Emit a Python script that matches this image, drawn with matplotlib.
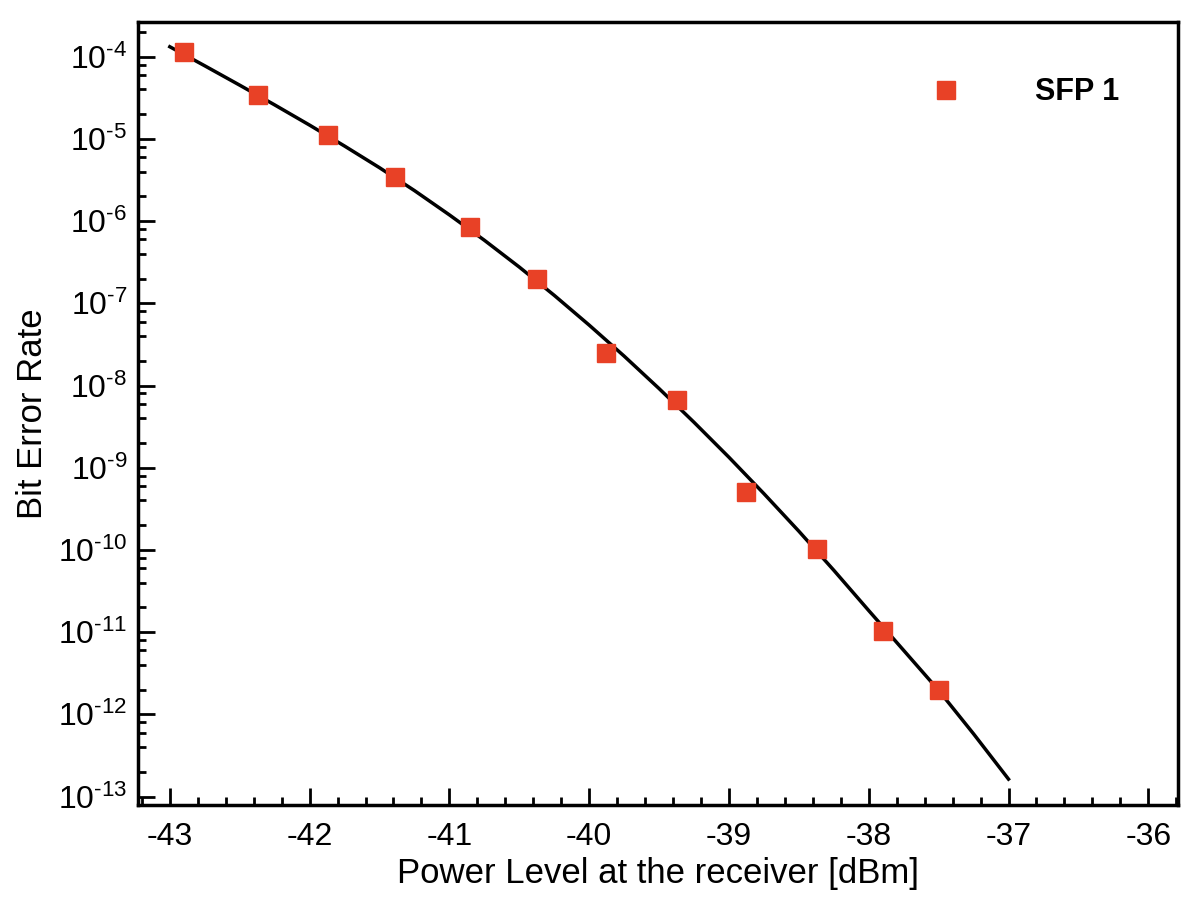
import matplotlib
matplotlib.use("Agg")
import matplotlib.pyplot as plt
import numpy as np
from matplotlib.ticker import FixedLocator, MultipleLocator, NullFormatter, FuncFormatter

plt.rcParams['font.family'] = ['Liberation Sans', 'DejaVu Sans']
plt.rcParams['mathtext.fontset'] = 'custom'
plt.rcParams['mathtext.rm'] = 'Liberation Sans'
plt.rcParams['mathtext.it'] = 'Liberation Sans:italic'
plt.rcParams['mathtext.bf'] = 'Liberation Sans:bold'
plt.rcParams['axes.unicode_minus'] = False

# measured points
power = [-42.90, -42.37, -41.87, -41.39, -40.85, -40.37, -39.88, -39.37,
         -38.88, -38.37, -37.90, -37.50]
ber = [1.13e-4, 3.4e-5, 1.13e-5, 3.4e-6, 8.4e-7, 2.0e-7, 2.5e-8, 6.6e-9,
       5.1e-10, 1.03e-10, 1.04e-11, 2.0e-12]

# fit curve
fit_power = [-43.0, -42.75, -42.5, -42.25, -42.0, -41.75, -41.5, -41.25,
             -41.0, -40.75, -40.5, -40.25, -40.0, -39.75, -39.5, -39.25,
             -39.0, -38.75, -38.5, -38.25, -38.0, -37.75, -37.5, -37.25,
             -37.0]
fit_ber = [1.32e-4, 7.74e-5, 4.50e-5, 2.59e-5, 1.47e-5, 8.18e-6, 4.46e-6,
           2.35e-6, 1.19e-6, 5.85e-7, 2.76e-7, 1.25e-7, 5.43e-8, 2.28e-8,
           9.18e-9, 3.57e-9, 1.34e-9, 4.84e-10, 1.69e-10, 5.66e-11, 1.83e-11,
           6.0e-12, 1.96e-12, 5.79e-13, 1.63e-13]

# y ticks: decades shown on the axis
decades = [-13, -12, -11, -10, -9, -8, -7, -6, -5, -4]


def pow10(v, pos):
    n = int(round(np.log10(v)))
    return r"$10^{\text{%d}}$" % n


fig = plt.figure(figsize=(11.98, 8.98), dpi=100)
fig.set_facecolor("w")
ax = fig.add_axes([0.1155, 0.1036, 0.8675, 0.8719])

ax.plot(fit_power, fit_ber, color="black", lw=2.5, zorder=2)
ax.plot(power, ber, ls="none", marker="s", ms=13, color="#E84126",
        mec="#E84126", label="SFP 1", zorder=3)

ax.set_yscale("log")
ax.set_xlim(-43.225, -35.79)
ax.set_ylim(7.9e-14, 2.64e-4)

major = [10.0 ** d for d in decades]
minor = [m * 10.0 ** d for d in decades for m in (2, 4, 6, 8)]
minor = [v for v in minor if v < 2.64e-4]

ax.xaxis.set_major_locator(MultipleLocator(1))
ax.xaxis.set_minor_locator(MultipleLocator(0.2))
ax.yaxis.set_major_locator(FixedLocator(major))
ax.yaxis.set_major_formatter(FuncFormatter(pow10))
ax.yaxis.set_minor_locator(FixedLocator(minor))
ax.yaxis.set_minor_formatter(NullFormatter())

ax.tick_params(which="both", direction="in", top=False, right=False,
               labelsize=23, width=2)
ax.tick_params(axis="x", pad=12)
ax.tick_params(axis="y", pad=8)
ax.tick_params(which="major", length=12)
ax.tick_params(which="minor", length=6)

for s in ax.spines.values():
    s.set_linewidth(2.5)

ax.set_xlabel("Power Level at the receiver [dBm]", fontsize=25, labelpad=4)
ax.set_ylabel("Bit Error Rate", fontsize=25, labelpad=6)

leg = ax.legend(loc="center left", bbox_to_anchor=(0.7627, 0.910),
                frameon=False, handlelength=1.0, handletextpad=2.4,
                borderpad=0, borderaxespad=0, numpoints=1,
                prop={"weight": "bold", "size": 22})

fig.savefig("out.png", dpi=100)
